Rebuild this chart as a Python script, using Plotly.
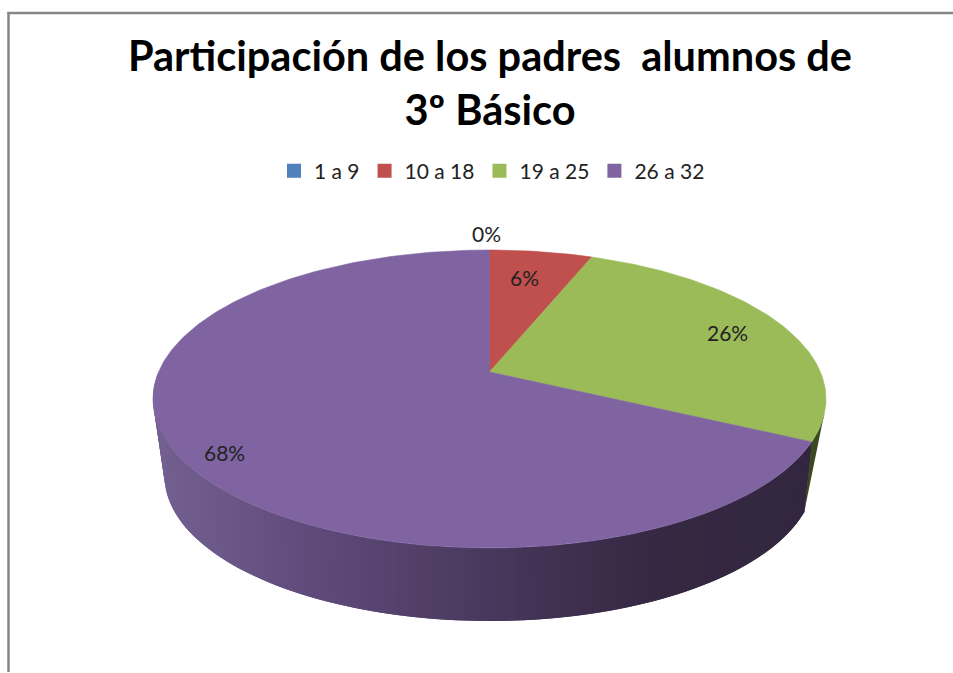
import math
import plotly.graph_objects as go

categories = ["1 a 9", "10 a 18", "19 a 25", "26 a 32"]
values = [0, 2, 9, 23]
top_colors = ["#4f81bd", "#c0504d", "#9bbb59", "#8064a2"]
title_lines = ["Participación de los padres\u00a0\u00a0alumnos de", "3º Básico"]
label_px = [(486, 233), (524, 277), (727, 332), (224, 452)]

W, H = 953, 673
CX, TOP_CY, TOP_RX, TOP_RY = 489.5, 399, 336.5, 149
BOT_CY, BOT_RX, BOT_RY = 476, 325, 145
E_TOP, E_BOT = 27 / 149, 0.22
GREEN_WALL_START = 107


def project(theta_deg, cy, rx, ry, e, r=1.0):
    """Perspective mapping of a circle of radius r to the tilted ellipse."""
    t = math.radians(theta_deg)
    s, c = r * math.sin(t), r * math.cos(t)
    d = 1 + e * c
    return CX + rx * s * math.sqrt(1 - e * e) / d, cy - ry * (c + e) / d


def top(t):
    return project(t, TOP_CY, TOP_RX, TOP_RY, E_TOP)


def bot(t):
    return project(t, BOT_CY, BOT_RX, BOT_RY, E_BOT)


total = sum(values)
edges = [0.0]
for v in values:
    edges.append(edges[-1] + 360.0 * v / total)

GRAD = [(150, (116, 97, 146)), (300, (96, 76, 124)), (500, (70, 54, 90)),
        (650, (54, 40, 66)), (830, (50, 38, 62))]


def grad(x):
    for (x0, c0), (x1, c1) in zip(GRAD, GRAD[1:]):
        if x <= x1:
            f = max(0, (x - x0) / (x1 - x0))
            return tuple(round(a + (b - a) * f) for a, b in zip(c0, c1))
    return GRAD[-1][1]


fig = go.Figure()


def add_poly(xs, ys, color, width=0.6):
    fig.add_trace(go.Scatter(x=xs, y=ys, mode="lines", fill="toself", fillcolor=color,
                             line=dict(color=color, width=width), showlegend=False,
                             hoverinfo="skip"))


# side wall: green part is an arc of the rim closed on the wall's foot
ts = [GREEN_WALL_START + (edges[3] - GREEN_WALL_START) * i / 20 for i in range(21)]
pts = [top(t) for t in ts] + [bot(edges[3])]
add_poly([p[0] for p in pts], [p[1] for p in pts], "rgb(60,74,34)")

# purple wall: strips that overlap the previous one so that no seams show
N = 110
step = (270 - edges[3]) / N
for i in range(N):
    t0 = edges[3] + step * i
    t1 = t0 + step
    t_back = max(edges[3], t0 - step)
    a, b, c, d = top(t_back), top(t1), bot(t1), bot(t_back)
    col = grad((top(t0)[0] + bot(t0)[0]) / 2)
    add_poly([a[0], b[0], c[0], d[0]], [a[1], b[1], c[1], d[1]], "rgb(%d,%d,%d)" % col, 0)

# top face slices
apex = project(0, TOP_CY, TOP_RX, TOP_RY, E_TOP, 0.0)
for i, col in enumerate(top_colors):
    a0, a1 = edges[i], edges[i + 1]
    n = max(2, int((a1 - a0) / 1.0))
    pts = [apex] + [top(a0 + (a1 - a0) * k / n) for k in range(n + 1)] + [apex]
    add_poly([p[0] for p in pts], [p[1] for p in pts], col)

# legend entries
for name, col in zip(categories, top_colors):
    fig.add_trace(go.Scatter(x=[None], y=[None], mode="markers", name=name,
                             marker=dict(symbol="square", size=14, color=col)))

annots = []
for v, (lx, ly) in zip(values, label_px):
    annots.append(dict(x=lx, y=ly, xref="x", yref="y", showarrow=False,
                       text="%d%%" % round(100 * v / total),
                       font=dict(family="Lato", size=21, color="#222222")))

fig.update_layout(
    width=W, height=H, autosize=False,
    margin=dict(l=0, r=0, t=0, b=0),
    paper_bgcolor="white", plot_bgcolor="white",
    title=dict(text="<br>".join(title_lines), x=490 / W, xanchor="center",
               y=1 - 71 / H, yanchor="top",
               font=dict(family="Lato", size=41.5, color="#000000", weight="bold")),
    xaxis=dict(range=[0, W], visible=False, fixedrange=True),
    yaxis=dict(range=[H, 0], visible=False, fixedrange=True),
    legend=dict(orientation="h", x=492 / W, xanchor="center", y=1 - 171 / H, yanchor="middle",
                font=dict(family="Lato", size=21, color="#222222"), bgcolor="rgba(0,0,0,0)"),
    annotations=annots,
    shapes=[
        dict(type="line", xref="x", yref="y", x0=7.5, x1=W, y0=13, y1=13,
             line=dict(color="#868686", width=2.5)),
        dict(type="line", xref="x", yref="y", x0=8.5, x1=8.5, y0=12, y1=672,
             line=dict(color="#868686", width=2.5)),
    ],
)
fig.write_html("out.html", config={"displayModeBar": False},
               post_script="document.body.style.margin='0';")
